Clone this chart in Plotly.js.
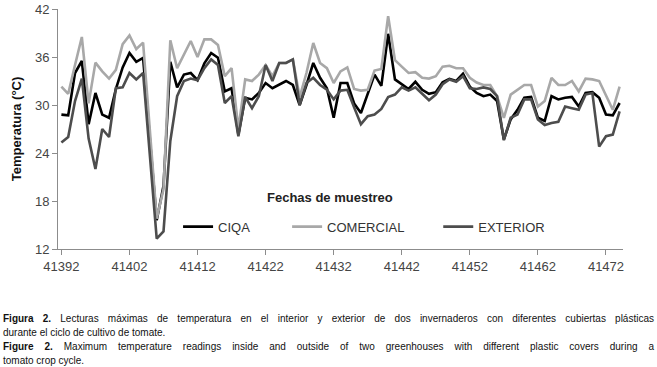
<!DOCTYPE html>
<html>
<head>
<meta charset="utf-8">
<script src="https://cdn.plot.ly/plotly-3.0.1.min.js"></script>
<style>
  html, body { margin: 0; padding: 0; background: #fff; }
  #wrap { position: relative; width: 657px; height: 367px; overflow: hidden; }
  #chart { position: absolute; left: 0; top: 0; width: 657px; height: 367px; }
  #caption { position: absolute; left: 3px; top: 312px; width: 651px;
    font-family: "Liberation Sans", Arial, sans-serif; font-size: 10px; line-height: 14px; color: #111; }
  #caption div { text-align: justify; text-align-last: justify; white-space: nowrap; }
  #caption div.last { text-align: left; text-align-last: left; }
</style>
</head>
<body>
<div id="wrap">
  <div id="chart"></div>
  <div id="caption">
    <div><b>Figura 2.</b> Lecturas máximas de temperatura en el interior y exterior de dos invernaderos con diferentes cubiertas plásticas</div>
    <div class="last">durante el ciclo de cultivo de tomate.</div>
    <div><b>Figure 2.</b> Maximum temperature readings inside and outside of two greenhouses with different plastic covers during a</div>
    <div class="last">tomato crop cycle.</div>
  </div>
</div>
<script>
const dates = [41392,41393,41394,41395,41396,41397,41398,41399,41400,41401,
  41402,41403,41404,41405,41406,41407,41408,41409,41410,41411,
  41412,41413,41414,41415,41416,41417,41418,41419,41420,41421,
  41422,41423,41424,41425,41426,41427,41428,41429,41430,41431,
  41432,41433,41434,41435,41436,41437,41438,41439,41440,41441,
  41442,41443,41444,41445,41446,41447,41448,41449,41450,41451,
  41452,41453,41454,41455,41456,41457,41458,41459,41460,41461,
  41462,41463,41464,41465,41466,41467,41468,41469,41470,41471,
  41472,41473,41474];

const ciqa = [28.8,28.7,34.0,35.5,27.6,31.5,28.8,28.4,32.0,34.7,
  36.5,35.4,35.9,25.5,15.6,19.9,35.4,32.2,33.8,34.0,
  33.1,35.2,36.5,35.9,31.7,32.1,26.3,30.9,30.7,31.5,
  32.75,32.1,32.5,33.0,32.5,30.0,32.5,35.25,33.4,32.1,
  28.4,32.75,32.75,30.2,29.0,31.4,33.8,32.4,38.9,33.2,
  32.6,32.0,32.9,31.9,31.4,31.6,32.85,33.25,33.0,33.9,
  32.3,31.5,31.1,31.3,30.5,25.7,28.2,29.4,30.9,31.0,
  28.4,28.0,31.1,30.7,30.9,31.0,29.8,31.5,31.6,30.9,
  28.8,28.7,30.25];

const comercial = [32.3,31.4,35.0,38.5,30.2,35.3,34.2,33.3,34.4,37.6,
  38.7,37.0,37.8,26.5,15.8,19.5,38.1,34.6,36.4,38.0,
  36.0,38.2,38.2,37.5,33.6,34.6,27.0,33.2,33.0,33.8,
  35.0,33.6,35.25,35.25,35.7,31.0,34.0,37.75,35.25,34.6,
  32.75,34.2,34.7,32.0,31.8,31.9,34.3,34.5,41.1,35.6,
  34.8,34.0,34.1,33.4,33.3,33.6,34.8,34.9,34.6,34.6,
  33.4,32.8,32.5,32.5,31.1,28.4,31.3,31.9,32.5,32.5,
  29.8,30.5,33.4,32.5,32.5,33.0,31.7,33.3,33.2,33.0,
  31.1,29.4,32.3];

const exterior = [25.3,26.0,30.5,33.3,25.8,22.0,27.0,26.0,32.1,32.2,
  34.0,33.2,34.0,23.5,13.3,14.2,25.5,31.1,33.0,33.3,
  33.1,34.6,35.7,35.0,30.25,31.1,26.1,31.0,29.6,31.1,
  35.0,33.0,35.25,35.25,35.7,30.0,32.75,33.4,32.5,31.9,
  30.7,31.8,31.9,29.7,27.6,28.6,28.8,29.5,31.0,31.3,
  32.2,31.8,32.2,31.4,30.6,31.3,32.6,33.2,32.9,33.6,
  32.1,32.0,32.2,32.0,31.1,25.6,28.4,28.8,30.7,30.7,
  28.2,27.5,27.75,27.9,29.8,29.6,29.4,31.3,31.5,24.8,
  26.1,26.3,29.2];

const seriesNames = ['CIQA', 'COMERCIAL', 'EXTERIOR'];
const xTicks = [41392,41402,41412,41422,41432,41442,41452,41462,41472];
const yTicks = [12,18,24,30,36,42];

const font = "Liberation Sans, Arial, sans-serif";

const traces = [
  {x: dates, y: ciqa, name: seriesNames[0], mode: 'lines', legend: 'legend',
   line: {color: '#000000', width: 2.6}},
  {x: dates, y: comercial, name: seriesNames[1], mode: 'lines', legend: 'legend2',
   line: {color: '#a8a8a8', width: 2.6}},
  {x: dates, y: exterior, name: seriesNames[2], mode: 'lines', legend: 'legend3',
   line: {color: '#4d4d4d', width: 2.6}}
];

const legBase = {orientation: 'h', yanchor: 'middle', y: 0.093, xanchor: 'left',
  bgcolor: 'rgba(0,0,0,0)', font: {family: font, size: 13, color: '#333'}};

const layout = {
  width: 657, height: 367,
  margin: {l: 58, r: 34, t: 9, b: 118},
  paper_bgcolor: '#fff', plot_bgcolor: '#fff',
  showlegend: true,
  legend: Object.assign({}, legBase, {x: 0.2125}),
  legend2: Object.assign({}, legBase, {x: 0.4055}),
  legend3: Object.assign({}, legBase, {x: 0.673}),
  xaxis: {
    range: [41391.5, 41474.5], tickvals: xTicks, ticktext: xTicks.map(String),
    showgrid: false, zeroline: false, showline: true, linecolor: '#8c8c8c', linewidth: 1,
    ticks: 'outside', ticklen: 5, tickcolor: '#8c8c8c',
    tickfont: {family: font, size: 13, color: '#444'}
  },
  yaxis: {
    range: [12, 42], tickvals: yTicks,
    showgrid: false, zeroline: false, showline: true, linecolor: '#8c8c8c', linewidth: 1,
    ticks: 'outside', ticklen: 5, tickcolor: '#8c8c8c',
    tickfont: {family: font, size: 13, color: '#444'},
    title: {text: '<b>Temperatura (°C)</b>', font: {family: font, size: 13, color: '#111'}, standoff: 10}
  },
  annotations: [
    {text: '<b>Fechas de muestreo</b>', xref: 'paper', yref: 'paper', x: 0.4817, y: 0.214,
     xanchor: 'center', yanchor: 'middle', showarrow: false,
     font: {family: font, size: 13, color: '#222'}}
  ]
};

Plotly.newPlot('chart', traces, layout, {displayModeBar: false, staticPlot: true});
</script>
</body>
</html>
